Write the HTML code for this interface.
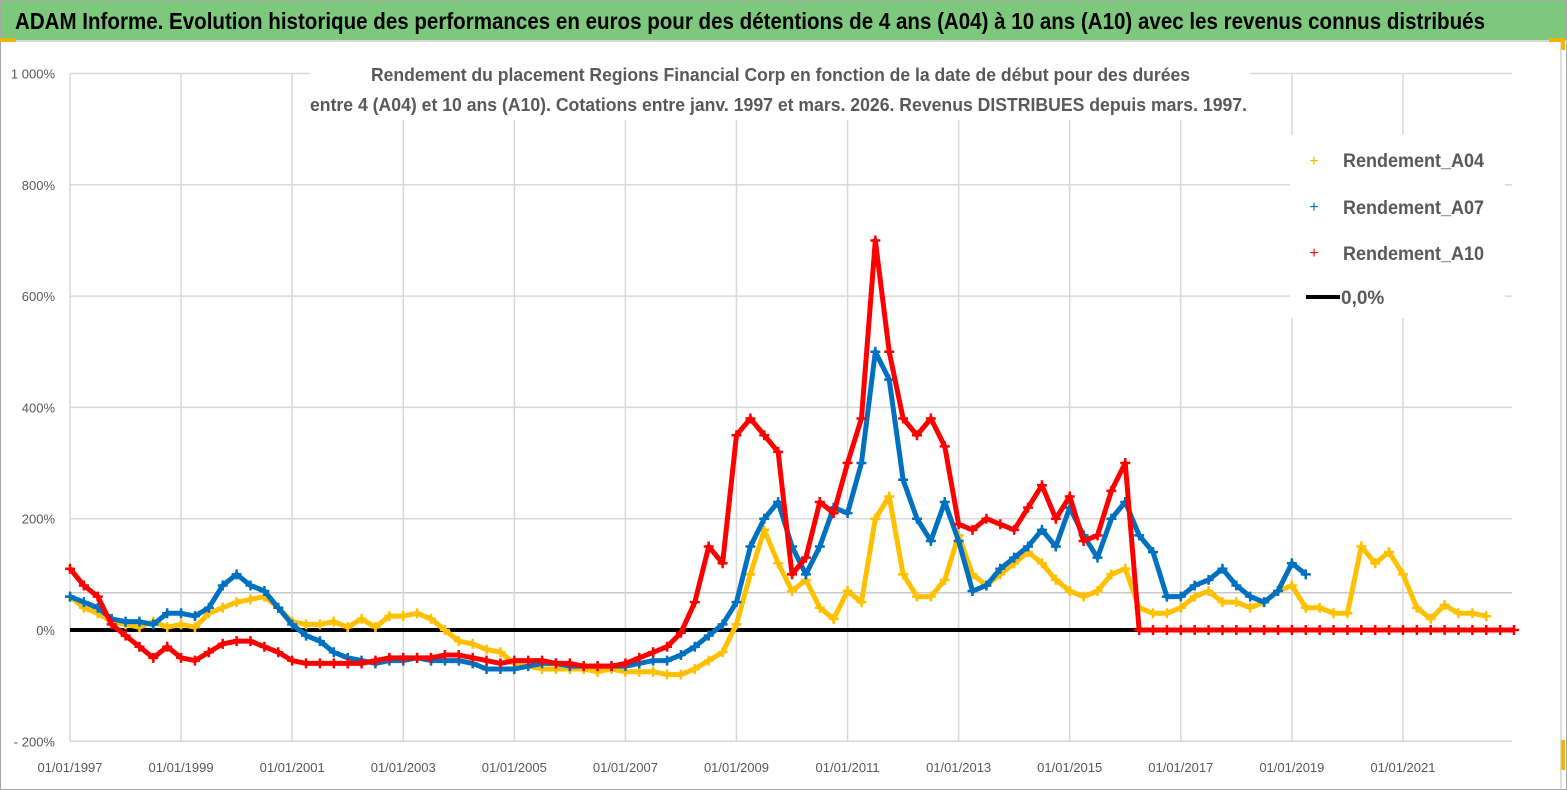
<!DOCTYPE html>
<html><head><meta charset="utf-8"><style>
html,body{margin:0;padding:0;background:#fff;}
svg{display:block;font-family:"Liberation Sans",sans-serif;}
</style></head><body>
<svg id="chart" width="1567" height="790" viewBox="0 0 1567 790" xmlns="http://www.w3.org/2000/svg">
<rect x="0.5" y="0.5" width="1566" height="789" fill="#fff" stroke="#a6a6a6"/>
<rect x="1" y="1" width="1565" height="39" fill="#7dc87d"/>
<line x1="0" y1="41" x2="1567" y2="41" stroke="#d9d9d9" stroke-width="2"/>
<rect x="0" y="38" width="16" height="4" fill="#f0b400"/>
<rect x="1549" y="38" width="16" height="4" fill="#f0b400"/>
<rect x="1561" y="38" width="4" height="12" fill="#f0b400"/>
<rect x="1561" y="740" width="4" height="30" fill="#f0b400"/>
<line x1="1561" y1="42" x2="1561" y2="790" stroke="#bfbfbf"/>
<text x="15" y="29" font-size="23" font-weight="bold" fill="#000" textLength="1470" lengthAdjust="spacingAndGlyphs">ADAM Informe. Evolution historique des performances en euros pour des détentions de 4 ans (A04) à 10 ans (A10) avec les revenus connus distribués</text>
<g id="grid"></g>
<g id="yaxis"></g>
<g id="xaxis"></g>
<rect x="310" y="56" width="940" height="64" fill="#fff"/>
<text x="371" y="81" font-size="18" font-weight="bold" fill="#595959" textLength="819" lengthAdjust="spacingAndGlyphs">Rendement du placement Regions Financial Corp en fonction de la date de début pour des durées</text>
<text x="310" y="111" font-size="18" font-weight="bold" fill="#595959" textLength="937" lengthAdjust="spacingAndGlyphs">entre 4 (A04) et 10 ans (A10). Cotations entre janv. 1997 et mars. 2026. Revenus DISTRIBUES depuis mars. 1997.</text>
<g id="series"></g>
<g id="legend">
<rect x="1290" y="135" width="215" height="183" fill="#fff"/>
<text x="1314" y="166" font-size="16" fill="#f5b800" text-anchor="middle">+</text>
<text x="1343" y="167" font-size="19" font-weight="bold" fill="#595959" textLength="141" lengthAdjust="spacingAndGlyphs">Rendement_A04</text>
<text x="1314" y="212" font-size="16" fill="#0070c0" text-anchor="middle">+</text>
<text x="1343" y="214" font-size="19" font-weight="bold" fill="#595959" textLength="141" lengthAdjust="spacingAndGlyphs">Rendement_A07</text>
<text x="1314" y="258" font-size="16" fill="#ff0000" text-anchor="middle">+</text>
<text x="1343" y="260" font-size="19" font-weight="bold" fill="#595959" textLength="141" lengthAdjust="spacingAndGlyphs">Rendement_A10</text>
<line x1="1306" y1="297" x2="1340" y2="297" stroke="#000" stroke-width="4"/>
<text x="1341" y="304" font-size="19" font-weight="bold" fill="#595959">0,0%</text>
</g>
</svg>
<script>
const yTicks = [-200, 0, 200, 400, 600, 800, 1000];
const yTickLabels = ["- 200%", "0%", "200%", "400%", "600%", "800%", "1 000%"];
const xTicks = [1997, 1999, 2001, 2003, 2005, 2007, 2009, 2011, 2013, 2015, 2017, 2019, 2021];
const xTickLabels = ["01/01/1997","01/01/1999","01/01/2001","01/01/2003","01/01/2005","01/01/2007","01/01/2009","01/01/2011","01/01/2013","01/01/2015","01/01/2017","01/01/2019","01/01/2021"];
const startYear = 1997;
const stepYears = 0.25;
const a04 = [60,40,30,15, 10,5,15,5, 10,5,30,40, 50,55,60,40, 15,10,10,15, 5,20,5,25, 25,30,20,0, -20,-25,-35,-40, -60,-65,-70,-70, -70,-70,-75,-70, -75,-75,-75,-80, -80,-70,-55,-40, 10,100,180,120, 70,90,40,20, 70,50,200,240, 100,60,60,90, 170,100,80,100, 120,140,120,90, 70,60,70,100, 110,40,30,30, 40,60,70,50, 50,40,50,70, 80,40,40,30, 30,150,120,140, 100,40,20,45, 30,30,25];
const a07 = [60,50,40,20, 15,15,10,30, 30,25,40,80, 100,80,70,40, 10,-10,-20,-40, -50,-55,-60,-55, -55,-50,-55,-55, -55,-60,-70,-70, -70,-65,-60,-60, -65,-65,-65,-65, -65,-60,-55,-55, -45,-30,-10,10, 50,150,200,230, 150,100,150,220, 210,300,500,450, 270,200,160,230, 160,70,80,110, 130,150,180,150, 220,170,130,200, 230,170,140,60, 60,80,90,110, 80,60,50,70, 120,100];
const a10 = [110,80,60,10, -10,-30,-50,-30, -50,-55,-40,-25, -20,-20,-30,-40, -55,-60,-60,-60, -60,-60,-55,-50, -50,-50,-50,-45, -45,-50,-55,-60, -55,-55,-55,-60, -60,-65,-65,-65, -60,-50,-40,-30, -5,50,150,120, 350,380,350,320, 100,130,230,210, 300,380,700,500, 380,350,380,330, 190,180,200,190, 180,220,260,200, 240,160,170,250, 300,0,0,0, 0,0,0,0, 0,0,0,0, 0,0,0,0, 0,0,0,0, 0,0,0,0, 0,0,0,0, 0];

const X0 = 70, PXY = 55.54, Y0 = 630, PXV = 111.3/200;
const xs = yr => X0 + (yr - 1997) * PXY;
const ys = v => Y0 - v * PXV;
const NS = "http://www.w3.org/2000/svg";
function mk(tag, attrs, parent){ const e=document.createElementNS(NS,tag); for(const k in attrs) e.setAttribute(k,attrs[k]); parent.appendChild(e); return e; }

const grid = document.getElementById('grid');
const yaxis = document.getElementById('yaxis');
const xaxis = document.getElementById('xaxis');
yTicks.forEach((v,i)=>{
  const l = mk('line',{x1:X0,x2:1512,y1:ys(v),y2:ys(v),stroke:'#d9d9d9','stroke-width':1.5},grid);
  
  
  const t = mk('text',{x:55,y:ys(v)+5,'font-size':13,fill:'#595959','text-anchor':'end'},yaxis);
  t.textContent = yTickLabels[i];
  
  
});
const ref = mk('line',{x1:X0,x2:1512,y1:ys(67),y2:ys(67),stroke:'#c8c8c8','stroke-width':1.5},grid);


xTicks.forEach((yr,i)=>{
  const l = mk('line',{x1:xs(yr),x2:xs(yr),y1:ys(1000),y2:ys(-200),stroke:'#d9d9d9','stroke-width':1.5},grid);
  
  
  const t = mk('text',{x:xs(yr),y:772,'font-size':13,fill:'#595959','text-anchor':'middle'},xaxis);
  t.textContent = xTickLabels[i];
  
  
});

const sg = document.getElementById('series');
const zl = mk('line',{x1:X0,x2:1515,y1:ys(0),y2:ys(0),stroke:'#000','stroke-width':4},sg);



function drawSeries(vals, color, name, extendTo){
  const g = mk('g',{},sg);
  
  
  let pts = vals.map((v,i)=>xs(startYear+i*stepYears)+','+ys(v));
  if (extendTo) pts.push(xs(extendTo)+','+ys(vals[vals.length-1]));
  mk('polyline',{points:pts.join(' '),fill:'none',stroke:color,'stroke-width':5,'stroke-linejoin':'round'},g);
  vals.forEach((v,i)=>{
    const x = xs(startYear+i*stepYears), y = ys(v);
    const p = mk('path',{d:`M${x-5},${y}h10M${x},${y-5}v10`,stroke:color,'stroke-width':2.5},g);
    
    
  });
}
drawSeries(a04,'#ffc000','series-a04');
drawSeries(a07,'#0070c0','series-a07');
drawSeries(a10,'#ff0000','series-a10',2023.0);
</script>
</body></html>
